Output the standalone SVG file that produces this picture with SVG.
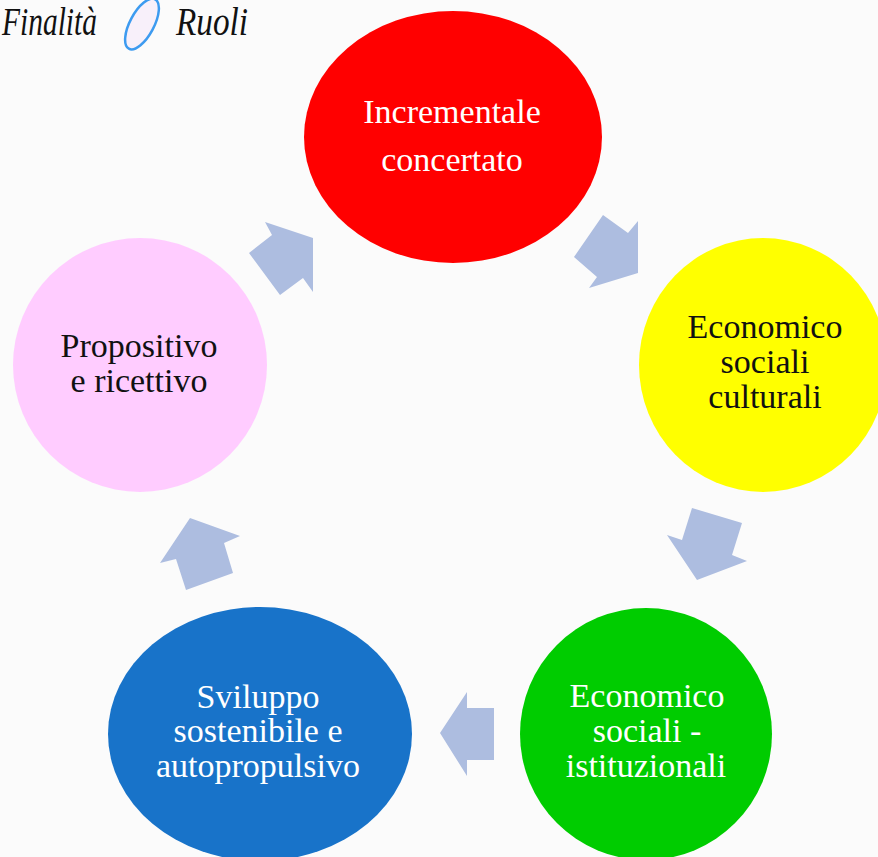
<svg xmlns="http://www.w3.org/2000/svg" width="878" height="857" viewBox="0 0 878 857">
<style>
.t{font-family:"Liberation Serif","Times New Roman",serif;font-size:34px;text-anchor:middle}
.w{fill:#ffffff}
.k{fill:#111111}
.arr{fill:#adbde0}
.leg{font-family:"Liberation Serif","Times New Roman",serif;font-style:italic;font-size:39px;fill:#111111}
</style>
<rect width="878" height="857" fill="#fbfbfb"/>
<g id="legend">
<text class="leg" x="2" y="35" textLength="95" lengthAdjust="spacingAndGlyphs">Finalità</text>
<ellipse cx="142" cy="24" rx="28" ry="12" transform="rotate(-62 142 24)" fill="#f8f0fa" stroke="#3d9bf0" stroke-width="2.5"/>
<text class="leg" x="176" y="35" textLength="72" lengthAdjust="spacingAndGlyphs">Ruoli</text>
</g>
<g id="connectors">
<polygon class="arr" points="249,253 272,235 265,222 313,238 313,292 303,278 280,295"/>
<polygon class="arr" points="603,215 628,233 638,221 638,273 589,288 597,277 574,257"/>
<polygon class="arr" points="692,508 742,523 732,555 747,561 697,580 667,535 682,540"/>
<polygon class="arr" points="494,708 467,708 467,692 440,733 467,776 467,760 494,760"/>
<polygon class="arr" points="190,518 240,536 224,543 233,573 186,590 176,559 160,563"/>
</g>
<g id="node-red">
<ellipse cx="453" cy="137" rx="149" ry="126" fill="#ff0000"/>
<text class="t w" x="452" y="123">Incrementale</text>
<text class="t w" x="452" y="171">concertato</text>
</g>
<g id="node-yellow">
<ellipse cx="763" cy="365" rx="124" ry="127" fill="#ffff00"/>
<text class="t k" x="765" y="338">Economico</text>
<text class="t k" x="765" y="373">sociali</text>
<text class="t k" x="765" y="408">culturali</text>
</g>
<g id="node-green">
<ellipse cx="646" cy="734" rx="126" ry="126" fill="#00cc00"/>
<text class="t w" x="647" y="707">Economico</text>
<text class="t w" x="647" y="742">sociali -</text>
<text class="t w" x="646" y="777">istituzionali</text>
</g>
<g id="node-blue">
<ellipse cx="260" cy="734" rx="152" ry="127" fill="#1873c9"/>
<text class="t w" x="258" y="708">Sviluppo</text>
<text class="t w" x="258" y="742">sostenibile e</text>
<text class="t w" x="258" y="777">autopropulsivo</text>
</g>
<g id="node-pink">
<ellipse cx="140" cy="365" rx="127" ry="127" fill="#ffccff"/>
<text class="t k" x="139" y="357">Propositivo</text>
<text class="t k" x="139" y="392">e ricettivo</text>
</g>
</svg>
